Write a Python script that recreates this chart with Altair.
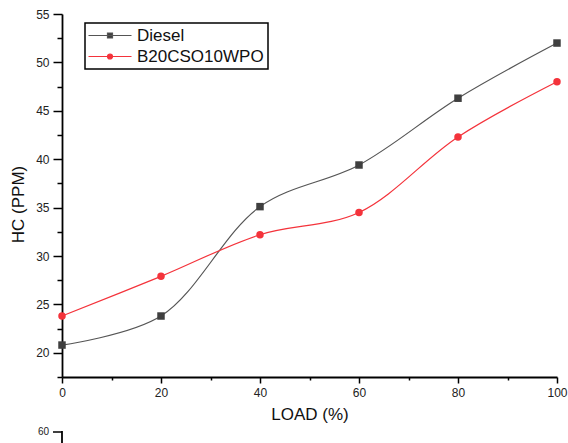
import altair as alt
import pandas as pd

load = [0, 20, 40, 60, 80, 100]
diesel = [20.8, 23.8, 35.1, 39.4, 46.3, 52.0]
b20 = [23.8, 27.9, 32.2, 34.5, 42.3, 48.0]
series_names = ["Diesel", "B20CSO10WPO"]
colors = ["#555555", "#f4333b"]
marker_colors = ["#3f3f3f", "#f4333b"]

rows = []
for name, vals in zip(series_names, [diesel, b20]):
    for l, v in zip(load, vals):
        rows.append({"Load": l, "HC": v, "Series": name})
df = pd.DataFrame(rows)

font = "Liberation Sans"

x_enc = alt.X(
    "Load:Q",
    scale=alt.Scale(domain=[0, 100], nice=False, zero=False),
    axis=alt.Axis(
        title="LOAD (%)",
        values=list(range(0, 101, 10)),
        labelExpr="datum.value % 20 == 0 ? datum.label : ''",
        tickSize={"condition": {"test": "datum.value % 20 != 0", "value": 3}, "value": 6},
        grid=False,
        labelFlush=False,
        domainColor="black",
        domainWidth=1.8,
        tickColor="black",
        tickWidth=1.5,
        labelFontSize=12,
        labelColor="#222",
        labelPadding=4,
        titleFontSize=17,
        titleFontWeight="normal",
        titleColor="#111",
        titlePadding=8,
        labelFont=font,
        titleFont=font,
    ),
)
y_enc = alt.Y(
    "HC:Q",
    scale=alt.Scale(domain=[17.5, 55], nice=False, zero=False),
    axis=alt.Axis(
        title="HC (PPM)",
        values=[17.5 + 2.5 * i for i in range(16)],
        labelExpr="datum.value % 5 == 0 ? datum.label : ''",
        tickSize={"condition": {"test": "datum.value % 5 != 0", "value": 5}, "value": 9},
        grid=False,
        labelFlush=False,
        domainColor="black",
        domainWidth=1.8,
        tickColor="black",
        tickWidth=1.5,
        labelFontSize=12,
        labelColor="#222",
        labelPadding=4,
        titleFontSize=17,
        titleFontWeight="normal",
        titleColor="#111",
        titlePadding=8,
        titleY=190,
        labelFont=font,
        titleFont=font,
    ),
)

stroke_scale = alt.Scale(domain=series_names, range=colors)
fill_scale = alt.Scale(domain=series_names, range=marker_colors)
shape_scale = alt.Scale(
    domain=series_names,
    range=[
        "M-1.8,0H6.8M2,-0.5H3V0.5H2Z",
        "M-1.8,0H6.8M3,0A0.5,0.5,0,1,1,2,0A0.5,0.5,0,1,1,3,0Z",
    ],
)

legend = alt.Legend(
    title=None,
    orient="none",
    legendX=23,
    legendY=9,
    symbolSize=100,
    symbolOpacity=1,
    symbolStrokeWidth=1.2,
    labelFontSize=17,
    labelFont=font,
    labelColor="#111",
    labelOffset=31,
    labelLimit=300,
    rowPadding=3,
    padding=4,
)

base = alt.Chart(df)

lines = base.mark_line(interpolate="catmull-rom", strokeWidth=1.2).encode(
    x=x_enc,
    y=y_enc,
    stroke=alt.Stroke("Series:N", scale=stroke_scale, legend=legend),
)

squares = base.transform_filter(alt.datum.Series == "Diesel").mark_square(
    size=56, opacity=1, clip=False
).encode(x=x_enc, y=y_enc, fill=alt.value(marker_colors[0]))

circles = base.transform_filter(alt.datum.Series == "B20CSO10WPO").mark_circle(
    size=56, opacity=1, clip=False
).encode(x=x_enc, y=y_enc, fill=alt.value(marker_colors[1]))

legend_layer = base.mark_point(filled=True, opacity=0).encode(
    x=x_enc,
    y=y_enc,
    stroke=alt.Stroke("Series:N", scale=stroke_scale, legend=legend),
    fill=alt.Fill("Series:N", scale=fill_scale, legend=legend),
    shape=alt.Shape("Series:N", scale=shape_scale, legend=legend),
)

# fragment of the next chart below (axis label "60")
frag_text = alt.Chart(pd.DataFrame({"t": ["60"]})).mark_text(
    fontSize=10, font=font, color="#222", align="right", baseline="middle"
).encode(text="t:N", x=alt.value(-13), y=alt.value(418))
frag_rule = alt.Chart(pd.DataFrame({"t": [1]})).mark_rule(color="black", strokeWidth=1.5).encode(
    x=alt.value(-9), x2=alt.value(0), y=alt.value(418)
)
frag_rule2 = alt.Chart(pd.DataFrame({"t": [1]})).mark_rule(color="black", strokeWidth=1.8).encode(
    x=alt.value(0), y=alt.value(417), y2=alt.value(432)
)

chart = alt.layer(lines, squares, circles, legend_layer, frag_text, frag_rule, frag_rule2).properties(
    width=495,
    height=363,
    autosize=alt.AutoSizeParams(type="none"),
    padding={"left": 62, "top": 14, "right": 11, "bottom": 66},
    background="white",
).configure_view(stroke=None).configure_legend(
    strokeColor="black", strokeWidth=1.5
)

chart.save("out.html", embed_options={"renderer": "svg", "actions": False})
